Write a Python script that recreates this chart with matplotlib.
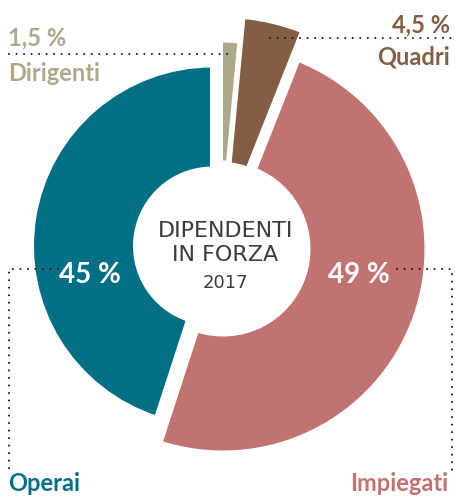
import matplotlib.pyplot as plt
from matplotlib.patches import Wedge

# Dati
categorie = ['Dirigenti', 'Quadri', 'Impiegati', 'Operai']
percentuali = [1.5, 4.5, 49, 45]
etichette_perc = ['1,5 %', '4,5 %', '49 %', '45 %']
colori = ['#aea88a', '#835e45', '#c07370', '#036f84']
titolo = ['DIPENDENTI', 'IN FORZA', '2017']

W, H = 455, 497

# Geometria di ogni spicchio (coordinate immagine): centro, raggio esterno, raggio interno
geometria = {
    'Dirigenti': ((220.5, 247), 207, 84),
    'Quadri': ((222.5, 233.5), 218, 69),
    'Impiegati': ((223, 249), 204, 85),
    'Operai': ((212.5, 246), 181, 77),
}


def yy(y):
    # da coordinate immagine (y verso il basso) a coordinate dati
    return H - y


fig = plt.figure(figsize=(W / 100, H / 100), dpi=100)
ax = fig.add_axes([0, 0, 1, 1])
ax.set_xlim(0, W)
ax.set_ylim(0, H)
ax.set_aspect('equal')
ax.axis('off')

# Spicchi: partenza a 90 gradi, senso orario
start = 90.0
for nome, valore, colore in zip(categorie, percentuali, colori):
    fine = start - valore / 100 * 360
    (cx, cy), r_est, r_int = geometria[nome]
    w = Wedge((cx, yy(cy)), r_est, fine, start, width=r_est - r_int,
              facecolor=colore, edgecolor='white', linewidth=3.6)
    ax.add_patch(w)
    start = fine

# Linee tratteggiate (puntini)
stile = dict(color='#1a1a1a', linewidth=1.5, linestyle=(0, (0.01, 3.6)),
             dash_capstyle='round', solid_capstyle='round')
ax.plot([9, 229], [yy(54), yy(54)], **stile)
ax.plot([270, 452], [yy(38), yy(38)], **stile)
ax.plot([58, 9, 9], [yy(269), yy(269), yy(470)], **stile)
ax.plot([397, 452, 452], [yy(269), yy(269), yy(472)], **stile)

font = 'Lato'
# Etichette esterne
ax.text(8, yy(45), etichette_perc[0], color=colori[0], fontsize=17,
        fontweight='bold', family=font, ha='left', va='baseline')
ax.text(8, yy(81), categorie[0], color=colori[0], fontsize=17,
        fontweight='bold', family=font, ha='left', va='baseline')
ax.text(450, yy(32), etichette_perc[1], color=colori[1], fontsize=17,
        fontweight='bold', family=font, ha='right', va='baseline')
ax.text(450, yy(65), categorie[1], color=colori[1], fontsize=17,
        fontweight='bold', family=font, ha='right', va='baseline')
ax.text(8, yy(491), categorie[3], color=colori[3], fontsize=17,
        fontweight='bold', family=font, ha='left', va='baseline')
ax.text(448, yy(491), categorie[2], color=colori[2], fontsize=17,
        fontweight='bold', family=font, ha='right', va='baseline')

# Percentuali dentro gli spicchi
ax.text(90, yy(283), etichette_perc[3], color='white', fontsize=20,
        fontweight='bold', family=font, ha='center', va='baseline')
ax.text(359, yy(283), etichette_perc[2], color='white', fontsize=20,
        fontweight='bold', family=font, ha='center', va='baseline')

# Testo centrale
centro = dict(color='#3c3c3c', family='DejaVu Sans', ha='center', va='baseline')
ax.text(226, yy(237), titolo[0], fontsize=16, **centro)
ax.text(225, yy(261), titolo[1], fontsize=16, **centro)
ax.text(225.5, yy(288), titolo[2], fontsize=13, **centro)

fig.savefig('out.png', dpi=100)
